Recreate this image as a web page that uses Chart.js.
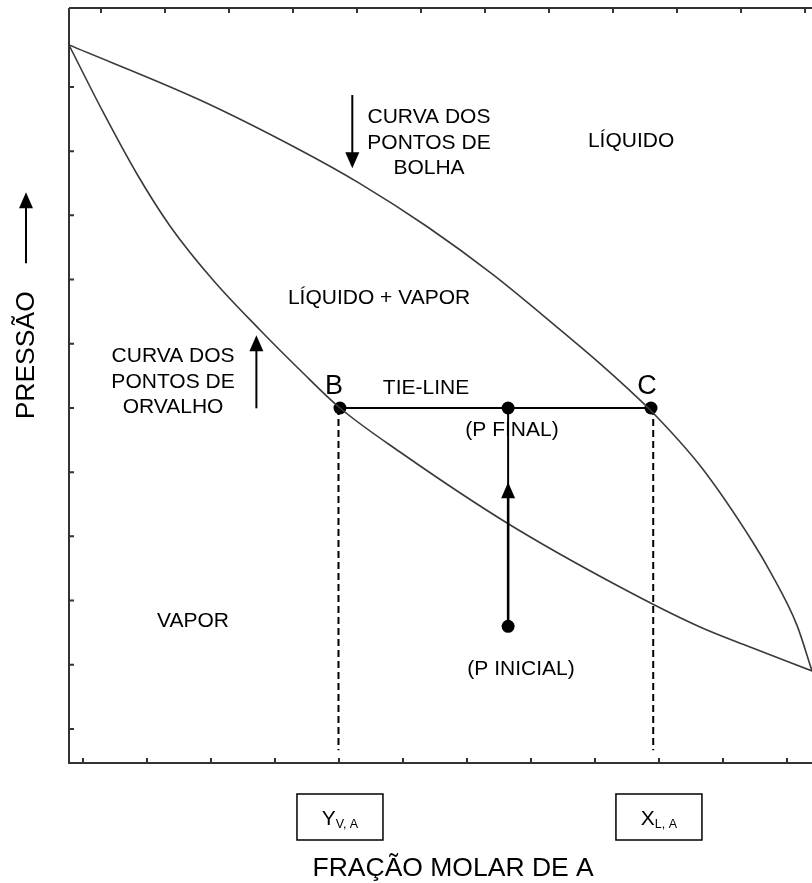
<!DOCTYPE html>
<html>
<head>
<meta charset="utf-8">
<script src="https://cdn.jsdelivr.net/npm/chart.js@4/dist/chart.umd.min.js"></script>
<style>
  body { margin: 0; background: #fff; overflow: hidden; }
</style>
</head>
<body>
<canvas id="diagram" width="812" height="883"></canvas>
<script>
// fração molar de A (x) e pressão relativa (y)
const bubbleX = [0, 0.1763, 0.3109, 0.3917, 0.4818, 0.5707, 0.6608, 0.7147, 0.7510, 0.7833, 0.8493, 0.9206, 0.9435, 0.9798, 1.0];
const bubbleY = [0.951, 0.8781, 0.8119, 0.7674, 0.7106, 0.6468, 0.5740, 0.5290, 0.4968, 0.4666, 0.3939, 0.2921, 0.2538, 0.1823, 0.122];
const dewX = [0, 0.0458, 0.0915, 0.1359, 0.1938, 0.2571, 0.3109, 0.3647, 0.4455, 0.5895, 0.7416, 0.8493, 0.9166, 1.0];
const dewY = [0.951, 0.8623, 0.7801, 0.7113, 0.6397, 0.5735, 0.5205, 0.4702, 0.4119, 0.3179, 0.2331, 0.1801, 0.1536, 0.122];

// tie-line B - P final - C
const yVA = 0.3647;     // B
const zA = 0.591;       // composição global
const xLA = 0.7833;     // C
const pFinal = 0.4702;
const pInicial = 0.181;
const dashBottom = 0.017;

const toPts = (xs, ys) => xs.map((v, i) => ({x: v, y: ys[i]}));

const FONT = '"Liberation Sans", Arial, sans-serif';

const overlay = {
    id: 'overlay',
    afterDraw(chart) {
        const {ctx, chartArea: a, scales: {x, y}} = chart;
        const px = v => x.getPixelForValue(v);
        const py = v => y.getPixelForValue(v);
        ctx.save();

        // moldura
        ctx.strokeStyle = '#333';
        ctx.lineWidth = 2;
        ctx.beginPath();
        ctx.moveTo(a.left, a.top); ctx.lineTo(a.right, a.top);
        ctx.moveTo(a.left, a.top); ctx.lineTo(a.left, a.bottom); ctx.lineTo(a.right, a.bottom);
        ctx.stroke();

        // marcas internas
        ctx.beginPath();
        for (let k = 0; k < 12; k++) {
            const xb = px(0.01884 + k * 0.08614);
            ctx.moveTo(xb, a.bottom); ctx.lineTo(xb, a.bottom - 5);
            const xt = px(0.0431 + k * 0.08614);
            ctx.moveTo(xt, a.top); ctx.lineTo(xt, a.top + 5);
        }
        for (let k = 0; k < 11; k++) {
            const yy = py(0.8954 - k * 0.08503);
            ctx.moveTo(a.left, yy); ctx.lineTo(a.left + 5, yy);
        }
        ctx.stroke();

        // setas
        const arrow = (xx, y0, y1, w) => {
            const dir = y1 < y0 ? 1 : -1;
            ctx.strokeStyle = '#000';
            ctx.fillStyle = '#000';
            ctx.lineWidth = w;
            ctx.beginPath();
            ctx.moveTo(xx, y0); ctx.lineTo(xx, y1 + dir * 12);
            ctx.stroke();
            ctx.beginPath();
            ctx.moveTo(xx, y1);
            ctx.lineTo(xx - 7, y1 + dir * 16);
            ctx.lineTo(xx + 7, y1 + dir * 16);
            ctx.closePath();
            ctx.fill();
        };
        arrow(px(0.3813), py(0.8847), py(0.7879), 2);
        arrow(px(0.2522), py(0.4698), py(0.5666), 2);
        arrow(px(zA), py(pInicial), py(0.372), 2.5);
        arrow(26, py(0.662), py(0.756), 2);

        // textos
        ctx.fillStyle = '#000';
        ctx.textAlign = 'center';
        ctx.textBaseline = 'middle';
        const text = (s, xv, yv, size) => {
            ctx.font = size + 'px ' + FONT;
            s.split('\n').forEach((line, i, arr) => {
                ctx.fillText(line, px(xv), py(yv) + (i - (arr.length - 1) / 2) * 25.5);
            });
        };
        text('CURVA DOS\nPONTOS DE\nBOLHA', 0.4845, 0.821, 21);
        text('LÍQUIDO', 0.7565, 0.823, 21);
        text('LÍQUIDO + VAPOR', 0.4173, 0.6159, 21);
        text('CURVA DOS\nPONTOS DE\nORVALHO', 0.140, 0.5046, 21);
        text('TIE-LINE', 0.4805, 0.497, 21);
        text('B', 0.3566, 0.499, 27);
        text('C', 0.778, 0.499, 27);
        text('(P FINAL)', 0.5962, 0.4411, 21);
        text('(P INICIAL)', 0.6083, 0.1245, 21);
        text('VAPOR', 0.1669, 0.1881, 21);

        // títulos dos eixos
        ctx.font = '26.5px ' + FONT;
        ctx.fillText('FRAÇÃO MOLAR DE A', px(0.517), a.bottom + 106);
        ctx.save();
        ctx.translate(27, py(0.540));
        ctx.rotate(-Math.PI / 2);
        ctx.fillText('PRESSÃO', 0, 0);
        ctx.restore();

        // caixas Y_V,A e X_L,A
        const box = (main, sub, xv) => {
            const cx = px(xv), top = a.bottom + 31;
            ctx.strokeStyle = '#000';
            ctx.lineWidth = 1.5;
            ctx.strokeRect(cx - 43, top, 86, 46);
            ctx.font = '21px ' + FONT;
            const w1 = ctx.measureText(main).width;
            ctx.font = '12.5px ' + FONT;
            const w2 = ctx.measureText(sub).width;
            const x0 = cx - (w1 + w2) / 2;
            ctx.textAlign = 'left';
            ctx.textBaseline = 'alphabetic';
            ctx.font = '21px ' + FONT;
            ctx.fillText(main, x0, top + 31);
            ctx.font = '12.5px ' + FONT;
            ctx.fillText(sub, x0 + w1, top + 34);
            ctx.textAlign = 'center';
            ctx.textBaseline = 'middle';
        };
        box('Y', 'V, A', yVA);
        box('X', 'L, A', 0.794);

        ctx.restore();
    }
};

const ctx = document.getElementById('diagram').getContext('2d');
const chart = new Chart(ctx, {
    type: 'scatter',
    data: {
        datasets: [
            {
                label: 'Curva dos pontos de bolha',
                data: toPts(bubbleX, bubbleY),
                showLine: true,
                borderColor: '#3a3a3a',
                borderWidth: 1.6,
                pointRadius: 0,
                cubicInterpolationMode: 'monotone'
            },
            {
                label: 'Curva dos pontos de orvalho',
                data: toPts(dewX, dewY),
                showLine: true,
                borderColor: '#3a3a3a',
                borderWidth: 1.6,
                pointRadius: 0,
                cubicInterpolationMode: 'monotone'
            },
            {
                label: 'Tie-line',
                data: [{x: yVA, y: pFinal}, {x: xLA, y: pFinal}],
                showLine: true,
                borderColor: '#000',
                borderWidth: 2,
                pointRadius: 0
            },
            {
                label: 'Compressão',
                data: [{x: zA, y: pInicial}, {x: zA, y: pFinal}],
                showLine: true,
                borderColor: '#000',
                borderWidth: 2,
                pointRadius: 0
            },
            {
                label: 'yB',
                data: [{x: yVA - 0.002, y: pFinal}, {x: yVA - 0.002, y: dashBottom}],
                showLine: true,
                borderColor: '#000',
                borderWidth: 2,
                borderDash: [7, 4],
                pointRadius: 0
            },
            {
                label: 'xC',
                data: [{x: xLA + 0.003, y: pFinal}, {x: xLA + 0.003, y: dashBottom}],
                showLine: true,
                borderColor: '#000',
                borderWidth: 2,
                borderDash: [7, 4],
                pointRadius: 0
            },
            {
                label: 'Pontos',
                data: [{x: yVA, y: pFinal}, {x: zA, y: pFinal}, {x: xLA, y: pFinal}, {x: zA, y: pInicial}],
                pointRadius: 6.5,
                pointBackgroundColor: '#000',
                pointBorderColor: '#000',
                borderWidth: 0
            }
        ]
    },
    options: {
        responsive: false,
        animation: false,
        layout: { autoPadding: false, padding: { left: 69, right: 0, top: 8, bottom: 120 } },
        plugins: { legend: { display: false }, tooltip: { enabled: false } },
        scales: {
            x: { type: 'linear', min: 0, max: 1, display: false },
            y: { type: 'linear', min: 0, max: 1, display: false }
        }
    },
    plugins: [overlay]
});
</script>
</body>
</html>
